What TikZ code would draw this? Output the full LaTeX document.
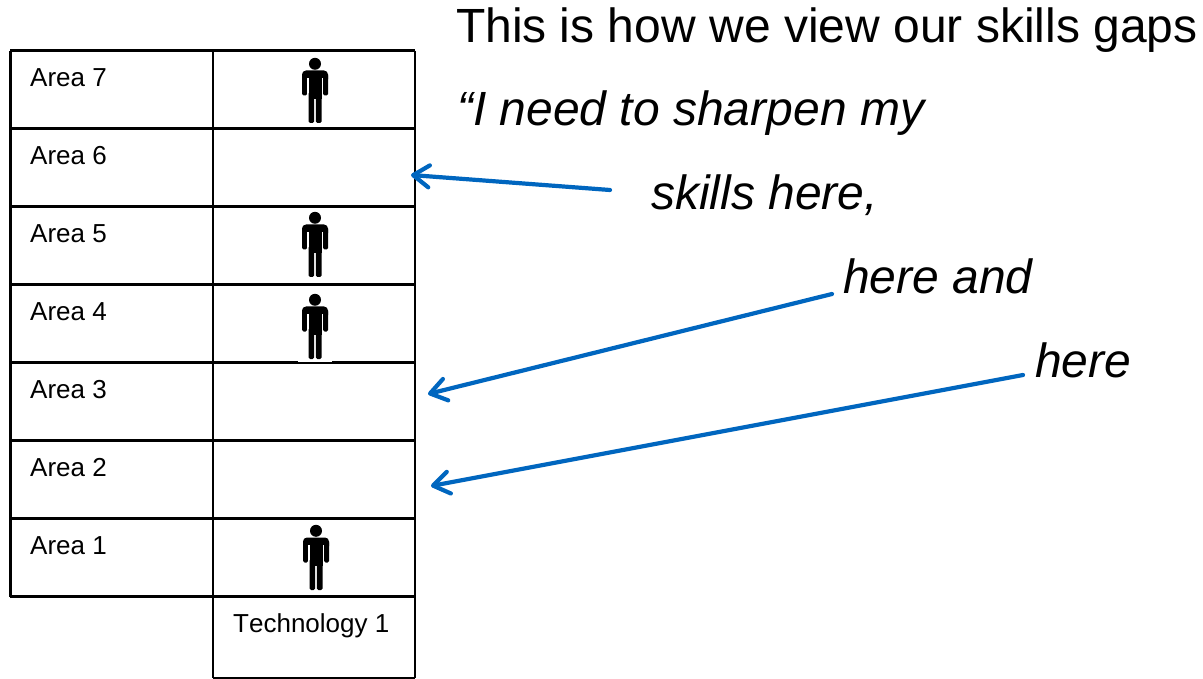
\documentclass[tikz,border=0pt]{standalone}
\usepackage{fontspec}
\setmainfont{Liberation Sans}
\usetikzlibrary{arrows.meta}
\definecolor{arrowblue}{HTML}{0066BF}
\tikzset{
	gridline/.style={black, line width=2.5pt},
	celltext/.style={anchor=base west, inner sep=0pt, font=\fontsize{26}{26}\selectfont},
	bigtext/.style={anchor=base west, inner sep=0pt, font=\fontsize{48}{48}\selectfont},
	quotetext/.style={bigtext, font=\fontsize{48}{48}\selectfont\itshape},
	gaparrow/.style={arrowblue, line width=4.2pt, line cap=round, -{Straight Barb[length=16pt, width=22pt, line width=4.2pt, round]}},
	person/.pic={
		\fill[white] (-17,-5) rectangle (17,67.3);
		\fill[black] (0,4.8) circle (6);
		\fill[black, rounded corners=4pt] (-13,11.5) rectangle (13,24);
		\fill[black] (-6.5,15) rectangle (6.5,40);
		\fill[black, rounded corners=1.5pt] (-13,15) rectangle (-8,36.5);
		\fill[black, rounded corners=1.5pt] (8,15) rectangle (13,36.5);
		\fill[white] (-8,19) rectangle (-6.5,36.5);
		\fill[white] (6.5,19) rectangle (8,36.5);
		\fill[black, rounded corners=1.5pt] (-6.5,33) rectangle (-0.8,64);
		\fill[black, rounded corners=1.5pt] (0.8,33) rectangle (6.5,64);
		\fill[black] (-6.5,33) rectangle (6.5,36);
	}
}
\begin{document}
\begin{tikzpicture}[x=1pt, y=-1pt]
	\useasboundingbox (0,0) rectangle (1203,679);
	\fill[white] (0,0) rectangle (1203,679);
	% table
	\foreach \y in {50.7,128.7,206.7,284.7,362.7,440.7,518.7,596.7}
		\draw[gridline] (10,\y) -- (415,\y);
	\draw[gridline] (10.5,50.7) -- (10.5,596.7);
	\draw[gridline] (213,50.7) -- (213,678);
	\draw[gridline] (415,50.7) -- (415,678);
	\draw[gridline, line width=2pt] (213,678) -- (415,678);
	\foreach \n/\y in {7/86.7,6/164.7,5/242.7,4/320.7,3/398.7,2/476.7,1/554.7}
		\node[celltext] (area\n) at (30,\y) {Area \n};
	\node[celltext] (tech1) at (233,632.7) {\addfontfeature{Kerning=Off}Technology 1};
	% people
	\pic at (315,59) {person};
	\pic at (315,213) {person};
	\pic at (315,295) {person};
	\pic at (316,526) {person};
	% text
	\node[bigtext] (title) at (455.8,43) {This is how we view our skills gaps};
	\node[quotetext] (quote1) at (457,126) {“I need to sharpen my};
	\node[quotetext] (quote2) at (651,209.5) {skills here,};
	\node[quotetext] (quote3) at (843,294) {here and};
	\node[quotetext] (quote4) at (1035,377.3) {here};
	% arrows
	\coordinate (from6) at (610,190);
	\coordinate (to6) at (411,175);
	\coordinate (from3) at (832,294);
	\coordinate (to3) at (428,394);
	\coordinate (from2) at (1023,375);
	\coordinate (to2) at (431,486);
	\draw[gaparrow] (from6) -- (to6);
	\draw[gaparrow] (from3) -- (to3);
	\draw[gaparrow] (from2) -- (to2);
\end{tikzpicture}
\end{document}
